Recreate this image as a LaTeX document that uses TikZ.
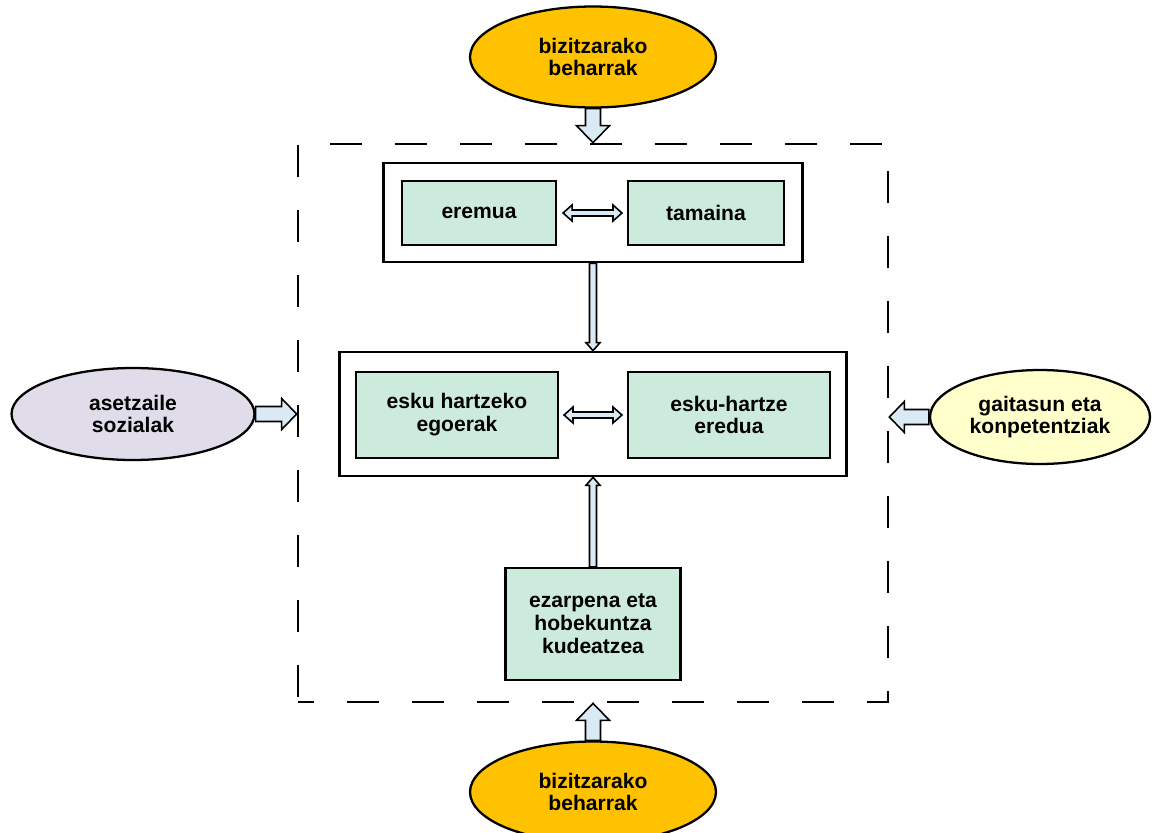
\documentclass[tikz,border=0pt]{standalone}
\usepackage{fontspec}
\setmainfont{Liberation Sans}
\usepackage{tikz}
\usetikzlibrary{shapes.geometric,calc}

\definecolor{boxgreen}{RGB}{205,235,220}
\definecolor{needgold}{RGB}{255,194,0}
\definecolor{sociallilac}{RGB}{224,220,234}
\definecolor{skillyellow}{RGB}{255,255,204}
\definecolor{arrowblue}{RGB}{218,234,244}

\tikzstyle{dashframe}=[draw, line width=1.6pt, inner sep=0pt,
                       dash pattern=on 0.64cm off 0.66cm, dash phase=0.32cm]
\tikzstyle{panel}=[draw, fill=white, line width=1.5pt, inner sep=0pt]
\tikzstyle{cell}=[draw, fill=boxgreen, line width=1.2pt, inner sep=0pt,
                  align=center, font=\fontsize{12}{13}\selectfont\bfseries]
\tikzstyle{blob}=[ellipse, draw, line width=1.3pt, inner sep=0pt,
                  align=center, font=\fontsize{12}{13}\selectfont\bfseries]
\tikzstyle{arrowbody}=[draw, fill=arrowblue, line width=0.9pt, line join=miter]

% #1 shaft half width, #2 head half width, #3 head length, #4 from, #5 tip
\newcommand{\blockarrow}[5]{%
  \coordinate (ba-base) at ($(#5)!#3!(#4)$);
  \draw[arrowbody] ($(#4)!#1!90:(#5)$) -- ($(ba-base)!#1!90:(#5)$)
    -- ($(ba-base)!#2!90:(#5)$) -- (#5) -- ($(ba-base)!#2!-90:(#5)$)
    -- ($(ba-base)!#1!-90:(#5)$) -- ($(#4)!#1!-90:(#5)$) -- cycle;
}
\newcommand{\dblarrow}[5]{%
  \coordinate (da-a) at ($(#4)!#3!(#5)$);
  \coordinate (da-b) at ($(#5)!#3!(#4)$);
  \draw[arrowbody] (#4) -- ($(da-a)!#2!90:(#5)$) -- ($(da-a)!#1!90:(#5)$)
    -- ($(da-b)!#1!-90:(#4)$) -- ($(da-b)!#2!-90:(#4)$) -- (#5)
    -- ($(da-b)!#2!90:(#4)$) -- ($(da-b)!#1!90:(#4)$)
    -- ($(da-a)!#1!-90:(#5)$) -- ($(da-a)!#2!-90:(#5)$) -- cycle;
}

\begin{document}
\begin{tikzpicture}[x=0.02cm, y=-0.02cm]
  \useasboundingbox (0,0) rectangle (1160,832);

  \node (frame) at (593,423) [dashframe, minimum width=11.8cm, minimum height=11.16cm]{};

  \node (topneed) at (593,57)  [blob, fill=needgold, minimum width=4.92cm, minimum height=2.02cm]{bizitzarako\\beharrak};
  \node (botneed) at (593,792) [blob, fill=needgold, minimum width=4.92cm, minimum height=2.02cm]{bizitzarako\\beharrak};
  \node (social)  at (133,414) [blob, fill=sociallilac, minimum width=4.86cm, minimum height=1.84cm]{asetzaile\\sozialak};
  \node (skills)  at (1040,417) [blob, fill=skillyellow, minimum width=4.4cm, minimum height=1.88cm]{gaitasun eta\\konpetentziak};

  \node (upper)   at (593,212.5) [panel, minimum width=8.38cm, minimum height=1.98cm]{};
  \node (eremua)  at (479,213) [cell, minimum width=3.08cm, minimum height=1.28cm]{eremua};
  \node (tamaina) at (706,213) [cell, minimum width=3.12cm, minimum height=1.28cm]{tamaina};

  \node (middle)  at (593,414) [panel, minimum width=10.14cm, minimum height=2.48cm]{};
  \node (egoerak) at (457,415) [cell, minimum width=4.04cm, minimum height=1.72cm]{esku hartzeko\\egoerak};
  \node (eredua)  at (729,415) [cell, minimum width=4.04cm, minimum height=1.72cm]{esku-hartze\\eredua};

  \node (kudeatzea) at (593,624) [cell, minimum width=3.5cm, minimum height=2.24cm]{ezarpena eta\\hobekuntza\\kudeatzea};

  % big arrows into the frame
  \coordinate (socialtip) at (frame.west |- social.east);
  \coordinate (skillstip) at (frame.east |- skills.west);
  \blockarrow{0.15cm}{0.33cm}{0.34cm}{topneed.south}{frame.north}
  \blockarrow{0.15cm}{0.33cm}{0.34cm}{botneed.north}{frame.south}
  \blockarrow{0.15cm}{0.31cm}{0.3cm}{social.east}{socialtip}
  \blockarrow{0.15cm}{0.31cm}{0.3cm}{skills.west}{skillstip}

  % thin arrows inside
  \coordinate (e1) at ([xshift=0.12cm]eremua.east);
  \coordinate (e2) at ([xshift=-0.1cm]tamaina.west);
  \coordinate (g1) at ([xshift=0.1cm]egoerak.east);
  \coordinate (g2) at ([xshift=-0.1cm]eredua.west);
  \dblarrow{0.06cm}{0.16cm}{0.18cm}{e1}{e2}
  \dblarrow{0.06cm}{0.16cm}{0.18cm}{g1}{g2}
  \blockarrow{0.07cm}{0.14cm}{0.16cm}{upper.south}{middle.north}
  \blockarrow{0.07cm}{0.14cm}{0.16cm}{kudeatzea.north}{middle.south}
\end{tikzpicture}
\end{document}
